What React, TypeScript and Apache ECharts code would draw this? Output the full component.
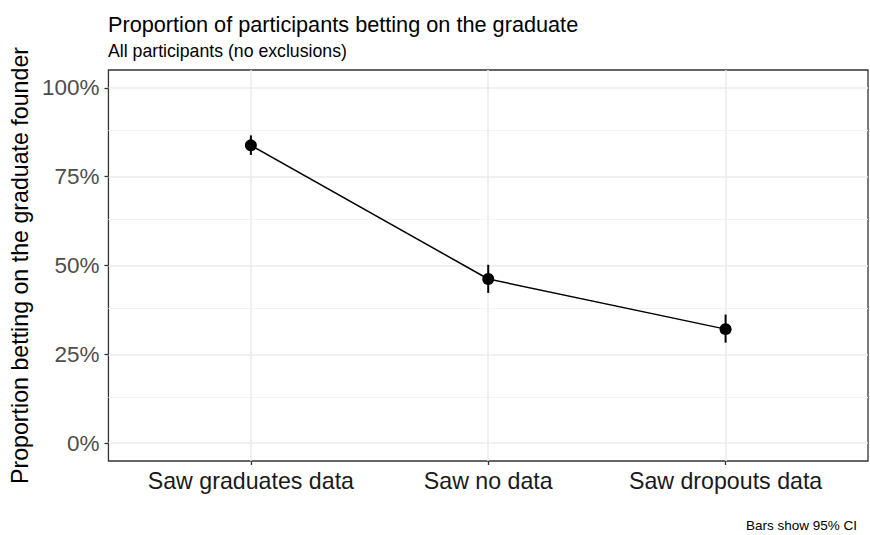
import React, { useEffect, useRef } from "react";
import * as echarts from "echarts";

const categories = ["Saw graduates data", "Saw no data", "Saw dropouts data"];
const xPositions = [1, 2, 3];
const proportion = [0.838, 0.462, 0.321];
const ciLower = [0.811, 0.423, 0.283];
const ciUpper = [0.866, 0.502, 0.362];
const yTicks = [0, 0.25, 0.5, 0.75, 1];
const yMinor = [0.125, 0.375, 0.625, 0.875];

const FONT = "Liberation Sans, Arial, Helvetica, sans-serif";

export default function App() {
  const ref = useRef<HTMLDivElement>(null);
  useEffect(() => {
    if (!ref.current) return;
    const chart = echarts.init(ref.current, undefined, { renderer: "svg" });
    chart.setOption({
      animation: false,
      backgroundColor: "#ffffff",
      textStyle: { fontFamily: FONT },
      title: [
        {
          text: "Proportion of participants betting on the graduate",
          left: 108,
          top: 13,
          padding: 0,
          textStyle: { fontFamily: FONT, fontSize: 21.7, fontWeight: "normal", color: "#000000" },
        },
        {
          text: "All participants (no exclusions)",
          left: 108,
          top: 42,
          padding: 0,
          textStyle: { fontFamily: FONT, fontSize: 17.7, fontWeight: "normal", color: "#000000" },
        },
        {
          text: "Bars show 95% CI",
          right: 13,
          top: 518,
          padding: 0,
          textStyle: { fontFamily: FONT, fontSize: 13.5, fontWeight: "normal", color: "#000000" },
        },
      ],
      grid: {
        left: 108,
        right: 2,
        top: 70,
        bottom: 74,
        show: true,
        borderColor: "#333333",
        borderWidth: 1.3,
        backgroundColor: "transparent",
      },
      xAxis: {
        type: "value",
        min: 0.4,
        max: 3.6,
        axisLine: { show: false, onZero: false },
        axisTick: {
          show: true,
          customValues: xPositions,
          length: 4,
          lineStyle: { color: "#333333", width: 1.3 },
        },
        axisLabel: {
          customValues: xPositions,
          formatter: (v: number) => categories[Math.round(v) - 1] ?? "",
          fontFamily: FONT,
          fontSize: 23.2,
          color: "#1a1a1a",
          margin: 8,
        },
        splitLine: { show: true, lineStyle: { color: "#EBEBEB", width: 1.5 } },
      },
      yAxis: {
        type: "value",
        min: -0.05,
        max: 1.05,
        name: "Proportion betting on the graduate founder",
        nameLocation: "middle",
        nameRotate: 90,
        nameGap: 66,
        nameTextStyle: { fontFamily: FONT, fontSize: 23.2, color: "#000000" },
        axisLine: { show: false, onZero: false },
        axisTick: {
          show: true,
          customValues: yTicks,
          length: 4,
          lineStyle: { color: "#333333", width: 1.3 },
        },
        axisLabel: {
          customValues: yTicks,
          formatter: (v: number) => Math.round(v * 100) + "%",
          fontFamily: FONT,
          fontSize: 22.5,
          color: "#4D4D4D",
          margin: 9,
        },
        splitLine: { show: true, lineStyle: { color: "#EBEBEB", width: 1.5 } },
      },
      series: [
        {
          type: "line",
          data: [],
          z: 1,
          silent: true,
          markLine: {
            z: 1,
            silent: true,
            symbol: "none",
            label: { show: false },
            lineStyle: { color: "#F2F2F2", width: 1, type: "solid" },
            emphasis: { disabled: true },
            data: yMinor.map((v) => ({ yAxis: v })),
          },
        },
        {
          type: "custom",
          z: 3,
          data: xPositions.map((x, i) => [x, ciLower[i], ciUpper[i]]),
          encode: { x: 0, y: [1, 2] },
          renderItem: (params: any, api: any) => {
            const lo = api.coord([api.value(0), api.value(1)]);
            const hi = api.coord([api.value(0), api.value(2)]);
            return {
              type: "line",
              shape: { x1: lo[0], y1: lo[1], x2: hi[0], y2: hi[1] },
              style: { stroke: "#000000", lineWidth: 2 },
            };
          },
        },
        {
          type: "line",
          z: 4,
          data: xPositions.map((x, i) => [x, proportion[i]]),
          symbol: "circle",
          symbolSize: 12,
          itemStyle: { color: "#000000" },
          lineStyle: { color: "#000000", width: 1.5 },
        },
      ],
    });
    return () => chart.dispose();
  }, []);
  return (
    <div
      ref={ref}
      style={{ position: "fixed", left: 0, top: 0, width: 870, height: 535 }}
    />
  );
}
